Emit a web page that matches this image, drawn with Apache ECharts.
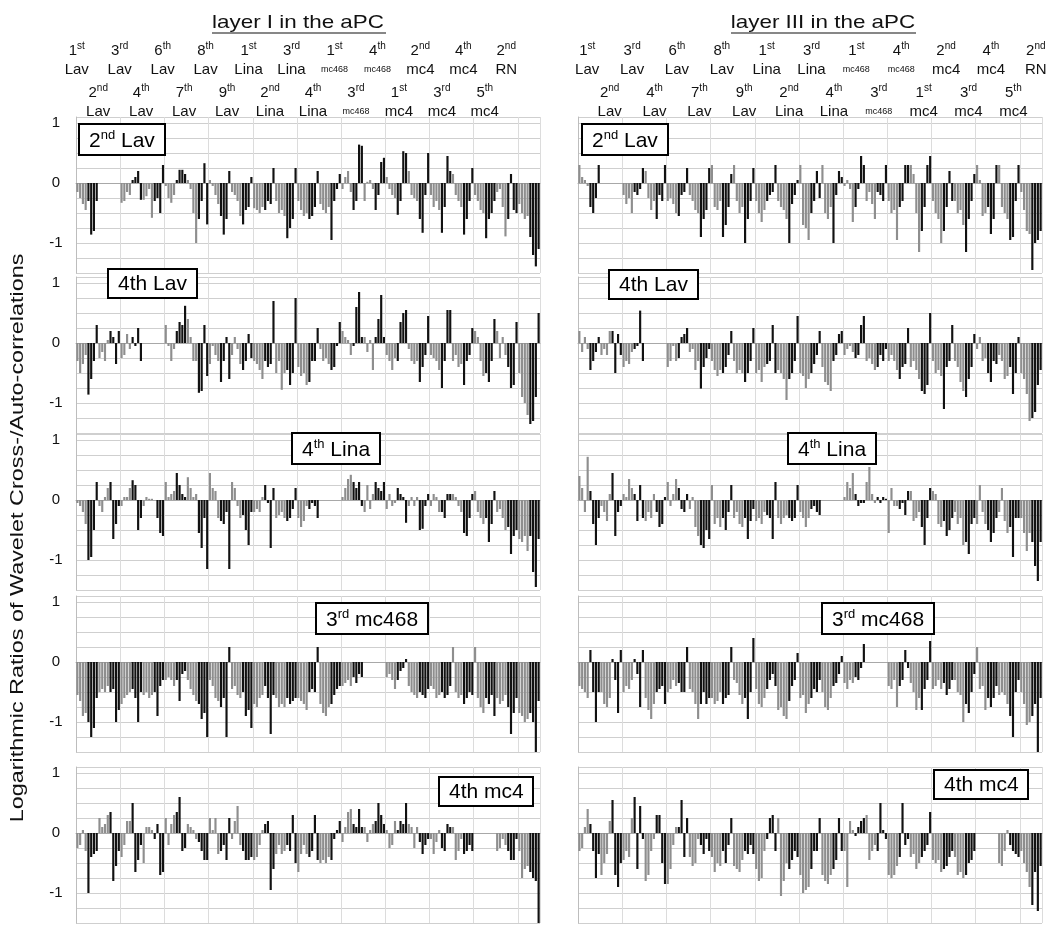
<!DOCTYPE html>
<html><head><meta charset="utf-8">
<script src="https://cdn.jsdelivr.net/npm/echarts/dist/echarts.min.js"></script>
<style>html,body{margin:0;background:#fff}#c{width:1055px;height:935px}</style>
</head><body><div id="c"></div>
<script>
// ---------------- data ----------------
const categories = ['1st Lav','2nd Lav','3rd Lav','4th Lav','6th Lav','7th Lav','8th Lav','9th Lav',
  '1st Lina','2nd Lina','3rd Lina','4th Lina','1st mc468','3rd mc468','4th mc468',
  '1st mc4','2nd mc4','3rd mc4','4th mc4','5th mc4','2nd RN'];
const columnTitles = ['layer I in the aPC', 'layer III in the aPC'];
const panelNames = ['2nd Lav', '4th Lav', '4th Lina', '3rd mc468', '4th mc4'];
const yTickLabels = [-1, 0, 1];
const yAxisTitle = 'Logarithmic Ratios of Wavelet Cross-/Auto-correlations';

// layer I, reference 2nd Lav (8 bars per category)
const layerI_2ndLav = [
 [-0.15,-0.25,-0.35,-0.45,-0.3,-0.86,-0.8,-0.3],
 [0,0,0,0,0,0,0,0],
 [-0.33,-0.3,-0.15,-0.2,0.05,0.1,0.2,-0.28],
 [-0.28,-0.22,-0.1,-0.58,-0.3,-0.25,-0.5,0.3],
 [-0.05,-0.25,-0.33,-0.2,0.05,0.22,0.22,0.15],
 [0.05,-0.1,-0.5,-1.0,-0.6,-0.3,0.33,-0.69],
 [0.05,-0.05,-0.2,-0.35,-0.55,-0.86,-0.6,0.2],
 [-0.15,-0.2,-0.3,-0.55,-0.69,-0.45,-0.4,0.1],
 [-0.42,-0.45,-0.5,-0.4,-0.45,-0.3,-0.35,0.25],
 [-0.3,-0.5,-0.45,-0.55,-0.92,-0.75,-0.6,0.25],
 [-0.3,-0.45,-0.55,-0.5,-0.6,-0.55,-0.4,0.2],
 [-0.35,-0.45,-0.5,-0.4,-0.95,-0.3,-0.1,0.15],
 [-0.1,0.1,0.2,-0.15,-0.45,-0.3,0.64,0.62],
 [-0.3,0.02,0.05,-0.1,-0.45,-0.2,0.35,0.42],
 [0.1,-0.1,-0.2,-0.25,-0.53,-0.3,0.53,0.5],
 [0.2,-0.2,-0.25,-0.3,-0.6,-0.83,-0.2,0.5],
 [-0.2,-0.4,-0.3,-0.45,-0.83,-0.4,0.45,0.2],
 [0.15,-0.2,-0.3,-0.4,-0.86,-0.6,-0.3,0.25],
 [-0.2,-0.3,-0.45,-0.5,-0.92,-0.6,-0.5,-0.3],
 [-0.15,-0.1,-0.4,-0.89,-0.6,0.15,-0.45,-0.5],
 [-0.35,-0.5,-0.6,-0.55,-0.9,-1.2,-1.39,-1.1]
];
const layerI_4thLav = [
 [-0.3,-0.5,-0.35,-0.2,-0.86,-0.6,-0.3,0.3],
 [-0.25,-0.15,-0.3,0.05,0.2,0.1,-0.35,0.2],
 [-0.25,-0.2,0.15,-0.1,0.1,-0.05,0.25,-0.3],
 [0,0,0,0,0,0,0,0],
 [0.3,-0.05,-0.3,-0.1,0.2,0.35,0.3,0.62],
 [0.4,0.1,-0.3,-0.3,-0.83,-0.8,0.3,-0.55],
 [-0.35,-0.05,-0.2,-0.3,-0.65,-0.3,0.1,-0.6],
 [-0.2,0.1,-0.1,-0.35,-0.45,-0.3,0.15,-0.25],
 [-0.3,-0.35,-0.45,-0.6,-0.3,-0.4,-0.35,0.7],
 [-0.5,-0.3,-0.78,-0.5,-0.45,-0.7,-0.5,0.75],
 [-0.4,-0.55,-0.5,-0.7,-0.65,-0.3,-0.3,0.25],
 [-0.1,-0.3,-0.25,-0.35,-0.45,-0.4,-0.05,0.35],
 [0.2,0.1,0.05,-0.2,-0.05,0.6,0.85,0.1],
 [0.1,-0.15,0.05,-0.45,0.1,0.4,0.8,0.1],
 [-0.2,-0.3,-0.45,-0.25,-0.3,0.35,0.5,0.55],
 [-0.1,-0.3,-0.35,-0.3,-0.65,-0.4,-0.2,0.45],
 [-0.2,-0.25,-0.3,-0.45,-0.75,-0.3,0.55,0.55],
 [-0.3,-0.2,-0.4,-0.35,-0.7,-0.3,-0.2,0.25],
 [0.2,0.1,-0.3,-0.55,-0.5,-0.65,-0.3,0.4],
 [0.2,-0.25,0.1,-0.2,-0.4,-0.75,-0.7,0.35],
 [-0.5,-0.9,-1.0,-1.2,-1.35,-1.3,-0.9,0.5]
];
const layerI_4thLina = [
 [-0.05,-0.1,-0.2,-0.4,-1.0,-0.95,-0.5,0.3],
 [-0.1,-0.2,0.05,0.2,0.3,-0.65,-0.4,-0.1],
 [-0.1,0.05,0.05,0.2,0.33,0.25,-0.5,-0.3],
 [-0.1,0.05,0.02,0.02,0,-0.3,-0.55,-0.6],
 [0.3,0.05,0.1,0.15,0.45,0.25,0.1,0.05],
 [0.38,0.2,0.05,0.1,-0.55,-0.8,-0.3,-1.15],
 [0.45,0.2,0.15,-0.3,-0.35,-0.4,-0.2,-1.15],
 [0.3,0.2,-0.1,-0.3,-0.25,-0.5,-0.75,-0.2],
 [-0.2,-0.15,-0.2,0.05,0.25,-0.05,-0.8,0.2],
 [-0.3,-0.25,-0.2,-0.3,-0.35,-0.3,-0.15,0.2],
 [-0.3,-0.45,-0.35,-0.1,-0.15,-0.05,-0.1,-0.3],
 [0,0,0,0,0,0,0,0],
 [0.05,0.2,0.35,0.42,0.3,0.2,0.3,-0.1],
 [-0.2,0.25,-0.15,0.1,0.3,0.2,0.15,0.3],
 [-0.15,0.1,-0.1,-0.05,0.2,0.1,0.05,-0.38],
 [-0.1,0.05,-0.1,0.05,-0.5,-0.48,-0.1,0.1],
 [-0.1,0.1,0.05,-0.2,-0.2,-0.3,0.1,0.1],
 [0.1,0.05,-0.1,-0.2,-0.55,-0.6,-0.3,0.1],
 [0.15,-0.2,-0.3,-0.4,-0.3,-0.7,-0.4,0.15],
 [-0.2,-0.15,-0.3,-0.5,-0.45,-0.9,-0.6,-0.5],
 [-0.65,-0.7,-0.6,-0.85,-0.6,-1.2,-1.45,-0.65]
];
const layerI_3rdmc468 = [
 [-0.55,-0.65,-0.9,-0.85,-1.0,-1.25,-1.1,-0.6],
 [-0.5,-0.45,-0.5,-0.4,-0.5,-0.45,-1.0,-0.8],
 [-0.7,-0.6,-0.55,-0.5,-0.45,-0.6,-1.0,-0.5],
 [-0.55,-0.5,-0.6,-0.55,-0.5,-0.9,-0.4,-0.3],
 [-0.3,-0.25,-0.3,-0.4,-0.3,-0.65,-0.2,-0.15],
 [-0.3,-0.45,-0.55,-0.65,-0.7,-0.95,-0.85,-1.25],
 [-0.3,-0.4,-0.6,-0.65,-0.75,-0.6,-1.25,0.25],
 [-0.45,-0.4,-0.55,-0.6,-0.5,-0.9,-0.8,-1.1],
 [-0.7,-0.75,-0.6,-0.55,-0.4,-0.6,-1.2,-0.55],
 [-0.6,-0.75,-0.7,-0.75,-0.6,-0.7,-0.65,-0.6],
 [-0.6,-0.65,-0.7,-0.8,-0.5,-0.45,-0.5,0.25],
 [-0.7,-0.85,-0.9,-0.75,-0.7,-0.55,-0.45,-0.4],
 [-0.4,-0.35,-0.3,-0.4,-0.25,-0.35,-0.2,-0.25],
 [0,0,0,0,0,0,0,0],
 [-0.25,-0.2,-0.3,-0.45,-0.3,-0.15,-0.1,0.05],
 [-0.4,-0.5,-0.55,-0.6,-0.5,-0.55,-0.6,-0.45],
 [-0.4,-0.45,-0.6,-0.55,-0.5,-0.6,-0.55,-0.4],
 [0.25,-0.5,-0.6,-0.55,-0.7,-0.6,-0.5,-0.55],
 [0.25,-0.6,-0.75,-0.85,-0.6,-0.7,-0.55,-0.9],
 [-0.6,-0.7,-0.65,-0.55,-0.75,-1.2,-0.85,-0.6],
 [-0.85,-0.9,-1.0,-0.95,-0.85,-1.0,-1.5,-0.65]
];
const layerI_4thmc4 = [
 [-0.25,-0.2,0.05,-0.3,-1.0,-0.4,-0.35,-0.3],
 [0.25,0.1,0.15,0.3,0.35,-0.8,-0.55,-0.3],
 [-0.4,-0.2,0.2,0.2,0.5,-0.65,-0.45,-0.2],
 [-0.5,0.1,0.1,0.05,-0.1,0.15,-0.7,-0.65],
 [0.25,-0.2,0.15,0.3,0.35,0.6,-0.3,-0.25],
 [0.15,0.1,0.05,-0.1,-0.15,-0.3,-0.45,-0.45],
 [0.25,0.05,0.25,-0.35,-0.3,-0.2,-0.45,0.25],
 [-0.1,0.2,0.45,-0.2,-0.3,-0.45,-0.45,-0.4],
 [-0.45,-0.4,-0.2,0.05,0.15,0.2,-0.95,-0.6],
 [-0.35,-0.2,-0.35,-0.3,-0.2,-0.3,0.3,-0.5],
 [-0.65,-0.35,-0.2,-0.35,-0.4,-0.3,0.3,-0.45],
 [-0.5,-0.45,-0.5,-0.4,-0.45,-0.1,0.05,0.2],
 [-0.15,0.1,0.35,0.4,0.15,0.1,0.4,0.1],
 [0.1,-0.15,0.05,0.15,0.2,0.5,0.3,0.15],
 [0.05,-0.25,-0.2,0.2,0.05,0.2,0.15,0.5],
 [0.15,0.1,-0.25,0.1,-0.15,-0.35,-0.2,-0.1],
 [-0.1,-0.35,-0.15,0.05,-0.25,-0.3,0.15,0.1],
 [0.1,-0.45,-0.3,-0.1,-0.35,-0.3,-0.2,-0.3],
 [0,0,0,0,0,0,0,0],
 [-0.3,-0.25,-0.1,-0.2,-0.3,-0.45,-0.45,-0.1],
 [-0.3,-0.75,-0.6,-0.55,-0.65,-0.75,-0.8,-1.6]
];
// layer III
const layerIII_2ndLav = [
 [0.3,0.1,0.05,-0.05,-0.4,-0.5,-0.25,0.3],
 [0,0,0,0,0,0,0,0],
 [-0.2,-0.35,-0.25,-0.5,-0.15,-0.2,-0.1,0.25],
 [0.2,-0.25,-0.45,-0.3,-0.6,-0.2,-0.3,0.3],
 [-0.3,-0.25,-0.35,-0.5,-0.55,-0.2,-0.15,0.25],
 [-0.2,-0.3,-0.45,-0.5,-0.9,-0.6,-0.45,0.25],
 [0.3,-0.4,-0.45,-0.3,-0.9,-0.7,-0.4,0.15],
 [0.3,-0.3,-0.5,-0.4,-1.0,-0.6,-0.3,0.25],
 [-0.3,-0.5,-0.65,-0.45,-0.3,-0.2,-0.15,0.3],
 [-0.3,-0.4,-0.45,-0.6,-1.0,-0.35,-0.2,0.05],
 [0.3,-0.7,-0.75,-0.95,-0.5,-0.3,0.2,-0.25],
 [0.3,-0.5,-0.6,-0.4,-1.0,-0.2,0.2,0.1],
 [-0.05,0.05,-0.1,-0.65,-0.4,-0.1,0.45,0.3],
 [-0.3,-0.15,-0.35,-0.6,-0.15,-0.2,-0.3,0.3],
 [-0.3,-0.5,-0.45,-0.95,-0.4,-0.3,0.3,0.3],
 [0.3,0.15,-0.5,-1.15,-0.8,-0.4,0.3,0.45],
 [-0.3,-0.5,-0.6,-1.0,-0.8,-0.4,0.2,-0.3],
 [-0.3,-0.5,-0.45,-0.7,-1.15,-0.6,-0.3,0.15],
 [0.3,0.05,-0.55,-0.5,-0.4,-0.85,-0.6,0.3],
 [0.3,-0.4,-0.5,-0.6,-0.95,-0.9,-0.3,0.3],
 [-0.15,-0.45,-0.8,-0.85,-1.45,-1.0,-0.95,-0.8]
];
const layerIII_4thLav = [
 [0.2,-0.15,0.1,-0.1,-0.45,-0.3,-0.15,0.1],
 [-0.2,-0.1,-0.2,0.2,0.2,-0.5,0.15,-0.2],
 [-0.4,-0.3,-0.35,-0.15,-0.1,-0.05,0.54,-0.3],
 [0,0,0,0,0,0,0,0],
 [-0.4,-0.3,-0.05,-0.3,-0.25,0.1,0.15,0.25],
 [-0.15,-0.1,-0.45,-0.3,-0.76,-0.4,-0.25,-0.1],
 [-0.3,-0.45,-0.55,-0.45,-0.5,-0.4,-0.2,0.2],
 [-0.3,-0.5,-0.45,-0.5,-0.65,-0.5,-0.3,0.25],
 [-0.5,-0.45,-0.65,-0.4,-0.35,-0.3,0.3,-0.5],
 [-0.45,-0.5,-0.6,-0.95,-0.6,-0.5,-0.3,0.45],
 [-0.5,-0.55,-0.75,-0.6,-0.5,-0.35,-0.2,0.2],
 [-0.4,-0.65,-0.7,-0.8,-0.3,-0.2,0.15,0.2],
 [-0.2,-0.1,-0.05,-0.15,-0.25,-0.2,0.3,0.45],
 [-0.3,-0.25,-0.35,-0.45,-0.4,-0.2,-0.3,-0.1],
 [-0.3,-0.2,-0.3,-0.45,-0.6,-0.4,-0.35,0.25],
 [-0.4,-0.3,-0.45,-0.6,-0.8,-0.85,-0.7,0.5],
 [-0.3,-0.5,-0.45,-0.55,-1.1,-0.4,-0.3,0.3],
 [-0.3,-0.4,-0.65,-0.8,-0.9,-0.6,-0.4,0.15],
 [-0.1,0.1,-0.3,-0.25,-0.5,-0.65,-0.3,-0.35],
 [-0.2,-0.3,-0.6,-0.55,-0.4,-0.85,-0.5,0.1],
 [-0.5,-0.6,-0.85,-1.3,-1.25,-1.15,-0.7,-0.45]
];
const layerIII_4thLina = [
 [0.4,0.2,-0.2,0.72,0.15,-0.4,-0.75,-0.3],
 [-0.1,-0.2,-0.35,0.1,0.45,-0.6,-0.2,-0.1],
 [0.1,0.05,0.35,0.2,0.1,-0.35,0.25,-0.3],
 [-0.35,-0.2,-0.3,0.1,-0.2,-0.45,-0.4,0.05],
 [0.3,-0.1,0.1,0.35,0.2,-0.15,-0.2,0.1],
 [-0.15,0.05,-0.45,-0.6,-0.75,-0.8,-0.5,-0.65],
 [0.25,-0.4,-0.3,-0.45,-0.3,-0.5,-0.2,0.25],
 [-0.3,-0.2,-0.4,-0.45,-0.3,-0.65,-0.35,-0.15],
 [-0.35,-0.3,-0.4,-0.2,-0.25,-0.3,-0.65,0.3],
 [-0.3,-0.4,-0.3,-0.25,-0.3,-0.35,-0.3,0.25],
 [-0.2,-0.3,-0.45,-0.3,-0.15,-0.1,-0.2,-0.25],
 [0,0,0,0,0,0,0,0],
 [0.05,0.3,0.2,0.45,0.1,-0.1,-0.05,-0.05],
 [0.3,0.55,0.1,-0.05,0.05,-0.05,0.05,0.02],
 [-0.55,0.2,-0.1,-0.1,-0.15,-0.05,-0.25,0.15],
 [0.15,-0.35,-0.3,-0.2,-0.45,-0.75,-0.3,0.2],
 [0.15,0.1,-0.4,-0.45,-0.35,-0.6,-0.5,-0.3],
 [-0.2,-0.4,-0.3,-0.75,-0.7,-0.9,-0.4,-0.3],
 [-0.4,0.25,-0.2,-0.4,-0.5,-0.7,-0.55,-0.3],
 [-0.2,0.2,-0.35,-0.55,-0.45,-0.95,-0.3,-0.3],
 [-0.3,-0.55,-0.85,-0.55,-0.7,-1.1,-1.35,-0.7]
];
const layerIII_3rdmc468 = [
 [-0.4,-0.45,-0.5,-0.6,0.2,-0.5,-1.0,-0.5],
 [-0.5,-0.7,-0.75,-0.6,0.05,-0.3,-0.85,0.2],
 [-0.5,-0.4,-0.45,-0.3,0.05,-0.2,-0.75,0.2],
 [-0.6,-0.8,-0.95,-0.7,-0.5,-0.45,-0.4,-0.7],
 [-0.5,-0.45,-0.3,-0.4,-0.35,-0.5,-0.5,0.25],
 [-0.45,-0.5,-0.7,-0.95,-0.7,-0.5,-0.7,-0.6],
 [-0.6,-0.7,-0.65,-0.5,-0.7,-0.6,-0.55,0.25],
 [-0.3,-0.35,-0.55,-0.7,-0.6,-0.95,-0.5,0.4],
 [-0.45,-0.7,-0.75,-0.6,-0.45,-0.3,-0.2,-0.4],
 [-0.8,-0.75,-0.9,-0.95,-0.65,-0.4,-0.3,0.15],
 [-0.6,-0.55,-0.85,-0.7,-0.6,-0.45,-0.5,-0.3],
 [-0.5,-0.75,-0.8,-0.6,-0.4,-0.35,-0.2,0.1],
 [-0.35,-0.45,-0.3,-0.35,-0.25,-0.3,-0.1,0.3],
 [0,0,0,0,0,0,0,0],
 [-0.4,-0.45,-0.3,-0.75,-0.4,-0.3,0.2,-0.1],
 [-0.35,-0.5,-0.8,-0.6,-0.8,-0.45,-0.3,0.35],
 [-0.45,-0.4,-0.3,-0.45,-0.35,-0.55,-0.45,-0.3],
 [-0.3,-0.5,-0.55,-1.0,-0.7,-0.85,-0.5,-0.2],
 [0.25,-0.45,-0.4,-0.8,-0.6,-0.75,-0.6,-0.4],
 [-0.55,-0.5,-0.55,-0.7,-0.9,-1.25,-0.5,-0.3],
 [-0.5,-0.7,-1.05,-1.0,-0.9,-0.7,-1.5,-0.6]
];
const layerIII_4thmc4 = [
 [-0.3,-0.25,0.1,0.4,0.15,-0.3,-0.75,-0.35],
 [-0.7,-0.5,-0.35,0.2,0.55,-0.7,-0.9,-0.5],
 [-0.45,-0.3,-0.4,0.25,0.6,-0.6,0.45,-0.1],
 [-0.8,-0.7,-0.3,-0.1,0.3,0.3,-0.5,-0.85],
 [-0.85,-0.6,-0.2,0.1,0.1,0.55,-0.4,0.25],
 [-0.4,-0.55,-0.5,-0.1,-0.2,-0.35,-0.1,-0.3],
 [-0.4,-0.65,-0.5,-0.55,-0.3,-0.5,-0.2,0.25],
 [-0.55,-0.6,-0.65,-0.45,-0.3,-0.35,-0.2,-0.35],
 [-0.6,-0.8,-0.75,-0.3,-0.1,0.25,0.3,-0.3],
 [0.25,-1.05,-0.8,-0.5,-0.6,-0.45,-0.3,-0.4],
 [-0.7,-1.0,-0.95,-0.9,-0.6,-0.3,-0.3,0.25],
 [-0.7,-0.8,-0.85,-0.7,-0.6,-0.45,0.25,-0.3],
 [-0.3,-0.9,0.2,0.05,-0.05,0.1,0.2,0.25],
 [0.3,-0.45,-0.3,-0.2,-0.3,0.5,0.05,-0.1],
 [-0.7,-0.75,-0.7,-0.55,-0.4,0.5,-0.2,-0.1],
 [-0.4,-0.35,-0.6,-0.5,-0.4,-0.3,-0.2,0.35],
 [-0.45,-0.5,-0.45,-0.65,-0.6,-0.55,-0.4,-0.3],
 [-0.4,-0.7,-0.65,-0.75,-0.7,-0.5,-0.45,-0.3],
 [0,0,0,0,0,0,0,0],
 [-0.5,-0.55,-0.3,0.05,-0.2,-0.3,-0.35,-0.4],
 [-0.3,-0.5,-0.65,-0.9,-1.2,-0.65,-1.3,-0.55]
];

// ---------------- layout ----------------
const FONT = '"Liberation Sans", Arial, sans-serif';
const BLACK = '#111111', GRAY = '#8e8e8e';
const rowTops = [117, 277, 434, 596, 767];
const colLefts = [76, 578];
const PW = 464, PH = 156;
const panels = [
  {col:0,row:0,data:layerI_2ndLav},{col:0,row:1,data:layerI_4thLav},{col:0,row:2,data:layerI_4thLina},
  {col:0,row:3,data:layerI_3rdmc468},{col:0,row:4,data:layerI_4thmc4},
  {col:1,row:0,data:layerIII_2ndLav},{col:1,row:1,data:layerIII_4thLav},{col:1,row:2,data:layerIII_4thLina},
  {col:1,row:3,data:layerIII_3rdmc468},{col:1,row:4,data:layerIII_4thmc4}
];
const perCat = 8;
const barCats = [];
categories.forEach(c => { for (let i = 0; i < perCat; i++) barCats.push(c + ' #' + (i + 1)); });

const grid = [], xAxis = [], yAxis = [], series = [];
panels.forEach((p, i) => {
  grid.push({left: colLefts[p.col], top: rowTops[p.row], width: PW, height: PH});
  xAxis.push({type:'category', gridIndex:i, data:barCats,
    axisTick:{show:false}, axisLabel:{show:false},
    axisLine:{onZero:true, lineStyle:{color:'#a8a8a8', width:1}},
    splitLine:{show:true, interval:(idx)=> idx % 16 === 0, lineStyle:{color:'#dcdcdc'}}});
  yAxis.push({type:'value', gridIndex:i, min:-1.5, max:1.1, interval:0.25,
    axisLine:{show:true, lineStyle:{color:'#bdbdbd'}}, axisTick:{show:false},
    axisLabel:{show:p.col===0, margin:20, align:'center', color:'#111', fontSize:15, fontFamily:FONT,
      formatter:(v)=>{const r=Math.round(v); return (Math.abs(v-r)<1e-6 && yTickLabels.includes(r)) ? String(r) : '';}},
    splitLine:{show:true, lineStyle:{color:'#cfcfcf', width:1}}});
  series.push({type:'bar', xAxisIndex:i, yAxisIndex:i, data:p.data.flat(), barCategoryGap:'22%',
    silent:true, animation:false,
    itemStyle:{color:(prm)=> (prm.dataIndex % perCat) < perCat/2 ? GRAY : BLACK}});
});

// top category label axes (two staggered rows per column)
const labelCols = [{left:66, width:451}, {left:576, width:471}];
function fmtCat(v) {
  const parts = v.split(' ');
  const num = parts[0].replace(/\D/g, ''), suf = parts[0].replace(/\d/g, '');
  const nm = parts[1];
  return '{o|' + num + '}{s|' + suf + '}\n{' + (nm === 'mc468' ? 'm' : 'n') + '|' + nm + '}';
}
const labelRich = {
  o:{fontSize:15, lineHeight:19, fontFamily:FONT, color:'#111'},
  s:{fontSize:10, lineHeight:11, verticalAlign:'top', fontFamily:FONT, color:'#111'},
  n:{fontSize:15, lineHeight:19, fontFamily:FONT, color:'#111'},
  m:{fontSize:9, lineHeight:19, fontFamily:FONT, color:'#111'}
};
labelCols.forEach((lc) => {
  const gi = grid.length;
  grid.push({left:lc.left, width:lc.width, top:40, height:1});
  yAxis.push({type:'value', gridIndex:gi, show:false});
  [0, 1].forEach(parity => {
    xAxis.push({type:'category', gridIndex:gi, data:categories, position:'bottom', offset: parity ? 42 : 0,
      axisLine:{show:false}, axisTick:{show:false}, splitLine:{show:false},
      axisLabel:{interval:0, margin:0, formatter:(v, idx)=> (idx % 2 === parity) ? fmtCat(v) : '', rich:labelRich}});
  });
});

// panel name boxes
const boxPos = [
  [{left:79, top:124}, {left:582, top:124}],
  [{left:108, top:267}, {left:609, top:268}],
  [{left:292, top:433}, {left:788, top:433}],
  [{left:316, top:603}, {left:822, top:603}],
  [{left:439, top:775}, {left:934, top:768}]
];
const supNames = {'2nd Lav':true, '4th Lina':true, '3rd mc468':true};
function boxText(name) {
  const m = name.match(/^(\d)(\w\w) (.*)$/);
  if (supNames[name]) return '{a|' + m[1] + '}{s|' + m[2] + '}{a| ' + m[3] + '}';
  return '{a|' + name + '}';
}
const title = [];
panelNames.forEach((nm, r) => {
  [0, 1].forEach(c => {
    title.push({text: boxText(nm), left: boxPos[r][c].left, top: boxPos[r][c].top,
      padding:[5, 10, 4, 10], borderColor:'#000', borderWidth:2, backgroundColor:'#fff',
      textStyle:{fontWeight:'normal', rich:{a:{fontSize:21, lineHeight:24, fontWeight:'normal', fontFamily:FONT, color:'#000'},
                       s:{fontSize:13, lineHeight:14, verticalAlign:'top', fontWeight:'normal', fontFamily:FONT, color:'#000'}}}});
  });
});

const graphic = [
  {type:'text', x:298, y:23, scaleX:1.18, style:{text:columnTitles[0], font:'19px ' + FONT, fill:'#111', align:'center', verticalAlign:'middle'}},
  {type:'line', shape:{x1:212, y1:33, x2:386, y2:33}, style:{stroke:'#111', lineWidth:1.2}},
  {type:'text', x:823, y:23, scaleX:1.18, style:{text:columnTitles[1], font:'19px ' + FONT, fill:'#111', align:'center', verticalAlign:'middle'}},
  {type:'line', shape:{x1:731, y1:33, x2:916, y2:33}, style:{stroke:'#111', lineWidth:1.2}},
  {type:'text', x:18, y:538, rotation:Math.PI/2, scaleX:1.3, style:{text:yAxisTitle, font:'18px ' + FONT, fill:'#111', align:'center', verticalAlign:'middle'}}
];

const chart = echarts.init(document.getElementById('c'), null, {renderer:'canvas'});
chart.setOption({animation:false, backgroundColor:'#fff', title, grid, xAxis, yAxis, series, graphic});
</script></body></html>
